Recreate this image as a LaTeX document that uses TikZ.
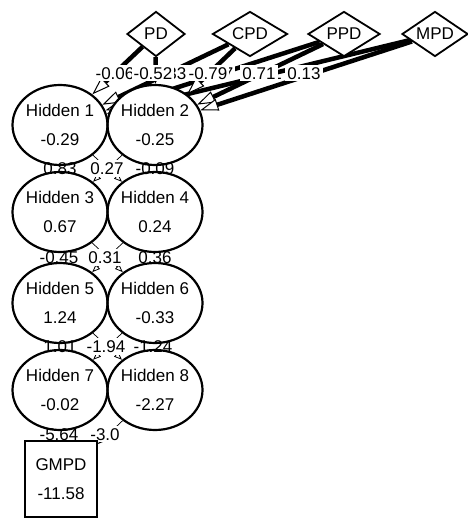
\documentclass[tikz,border=0pt]{standalone}
\usepackage{fontspec}
\setmainfont{Liberation Sans}
\usetikzlibrary{shapes.geometric,arrows.meta}
\pgfdeclarelayer{edgelayer}
\pgfdeclarelayer{filllayer}
\pgfsetlayers{edgelayer,filllayer,main}
% two centred lines that take no width of their own
\newcommand{\twolines}[2]{\makebox[0pt]{#1}\\\makebox[0pt]{#2}}
\begin{document}
\begin{tikzpicture}[x=1pt,y=-1pt,
  font=\fontsize{17}{29}\selectfont,
  inputnode/.style={diamond, draw, line width=1.8pt, fill=white, inner sep=0pt,
    aspect=1.5, minimum height=45pt},
  hiddennode/.style={ellipse, draw, line width=2.2pt, inner sep=0pt,
    minimum width=95pt, minimum height=80pt, align=center},
  hiddenfill/.style={ellipse, fill=white, inner sep=0pt,
    minimum width=95pt, minimum height=80pt},
  outputnode/.style={rectangle, draw, line width=2pt, fill=white, inner sep=0pt,
    minimum width=72pt, minimum height=76pt, align=center},
  wlabel/.style={fill=white, inner xsep=2pt, inner ysep=2pt,
    text height=12.2pt, text depth=0pt},
  inedge/.style={line width=4.5pt,
    -{Triangle[length=18pt,width=12pt,fill=white,line width=1pt]}},
  hidedge/.style={line width=0.7pt,
    -{Triangle[length=8pt,width=6pt,fill=white,line width=0.8pt]}},
]
\useasboundingbox (0,0) rectangle (467,518);

% input layer
\node[inputnode, minimum width=58pt] (PD)  at (156,34) {PD};
\node[inputnode, minimum width=75pt] (CPD) at (250,34) {CPD};
\node[inputnode, minimum width=72pt] (PPD) at (344,34) {PPD};
\node[inputnode, minimum width=66pt] (MPD) at (435,34) {MPD};

% hidden layers
\node[hiddennode] (H1) at (60,125)  {\twolines{Hidden 1}{-0.29}};
\node[hiddennode] (H2) at (155,125) {\twolines{Hidden 2}{-0.25}};
\node[hiddennode] (H3) at (60,212)  {\twolines{Hidden 3}{0.67}};
\node[hiddennode] (H4) at (155,212) {\twolines{Hidden 4}{0.24}};
\node[hiddennode] (H5) at (60,303)  {\twolines{Hidden 5}{1.24}};
\node[hiddennode] (H6) at (155,303) {\twolines{Hidden 6}{-0.33}};
\node[hiddennode] (H7) at (60,390)  {\twolines{Hidden 7}{-0.02}};
\node[hiddennode] (H8) at (155,390) {\twolines{Hidden 8}{-2.27}};

% output
\node[outputnode] (GMPD) at (61,479) {\twolines{GMPD}{-11.58}};

\begin{pgfonlayer}{edgelayer}
  % inputs to Hidden 1, each with its weight
  \draw[inedge] (PD)  -- (H1); \node[wlabel] at (115,73) {-0.06};
  \draw[inedge] (CPD) -- (H1); \node[wlabel] at (167,73) {-0.33};
  \draw[inedge] (PPD) -- (H1); \node[wlabel] at (214,73) {-0.17};
  \node[wlabel] at (266,73) {0.11}; \draw[inedge] (MPD) -- (H1);
  % inputs to Hidden 2
  \draw[inedge] (PD)  -- (H2); \node[wlabel] at (153,73) {-0.52};
  \draw[inedge] (CPD) -- (H2); \node[wlabel] at (208,73) {-0.79};
  \draw[inedge] (PPD) -- (H2); \node[wlabel] at (259,73) {0.71};
  \draw[inedge] (MPD) -- (H2); \node[wlabel] at (304,73) {0.13};
  % hidden to hidden
  \draw[hidedge] (H1) -- (H3);
  \draw[hidedge] (H1) -- (H4);
  \draw[hidedge] (H2) -- (H3);
  \draw[hidedge] (H2) -- (H4);
  \draw[hidedge] (H3) -- (H5);
  \draw[hidedge] (H3) -- (H6);
  \draw[hidedge] (H4) -- (H5);
  \draw[hidedge] (H4) -- (H6);
  \draw[hidedge] (H5) -- (H7);
  \draw[hidedge] (H5) -- (H8);
  \draw[hidedge] (H6) -- (H7);
  \draw[hidedge] (H6) -- (H8);
  \draw[hidedge] (H7) -- (GMPD);
  \draw[hidedge] (H8) -- (GMPD);
\end{pgfonlayer}

\begin{pgfonlayer}{filllayer}
  \foreach \n in {H1,H2,H3,H4,H5,H6,H7,H8} \node[hiddenfill] at (\n) {};
  % weights between hidden rows
  \node[wlabel] at (60,168.5)  {0.83};
  \node[wlabel] at (107,168.5) {0.27};
  \node[wlabel] at (155,168.5) {-0.09};
  \node[wlabel] at (59,257.5)  {-0.45};
  \node[wlabel] at (105,257.5) {0.31};
  \node[wlabel] at (155,257.5) {0.36};
  \node[wlabel] at (60,346.5)  {1.01};
  \node[wlabel] at (106,346.5) {-1.94};
  \node[wlabel] at (153,346.5) {-1.24};
  \node[wlabel] at (59,434)    {-5.64};
  \node[wlabel] at (105,434)   {-3.0};
\end{pgfonlayer}
\end{tikzpicture}
\end{document}
